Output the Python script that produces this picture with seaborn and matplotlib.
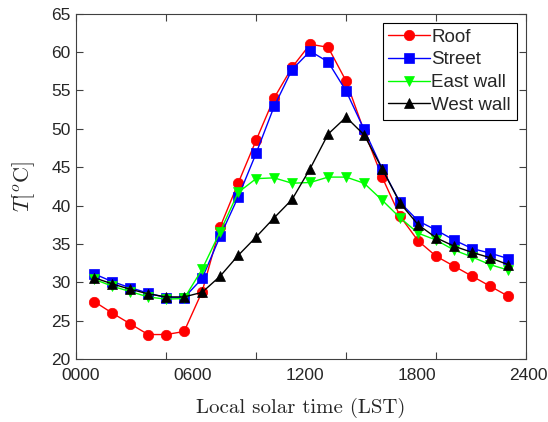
import pandas as pd
import matplotlib.pyplot as plt
import seaborn as sns

# hourly samples (MATLAB-style index 1..24 on a 0..25 axis)
hours = list(range(1, 25))

roof = [27.5, 26.0, 24.6, 23.2, 23.2, 23.6, 28.8, 37.2, 42.9, 48.5, 54.0, 58.0,
        61.0, 60.6, 56.2, 49.7, 43.7, 38.6, 35.4, 33.4, 32.1, 30.8, 29.5, 28.2]
street = [31.1, 30.1, 29.3, 28.6, 28.0, 28.0, 30.5, 36.0, 41.1, 46.8, 52.9, 57.7,
          60.1, 58.7, 54.9, 49.9, 44.8, 40.4, 38.0, 36.8, 35.5, 34.4, 33.8, 33.1]
east_wall = [30.4, 29.5, 28.8, 28.1, 27.8, 27.9, 31.7, 36.6, 41.7, 43.5, 43.6, 42.9,
             43.0, 43.7, 43.7, 42.9, 40.7, 38.4, 36.4, 35.5, 34.2, 33.3, 32.3, 31.6]
west_wall = [30.6, 29.8, 29.1, 28.5, 28.1, 28.1, 28.7, 30.8, 33.5, 35.9, 38.4, 40.8,
             44.8, 49.3, 51.5, 49.2, 44.8, 40.3, 37.5, 35.8, 34.7, 33.9, 33.2, 32.3]

names = ["Roof", "Street", "East wall", "West wall"]
series = [roof, street, east_wall, west_wall]
colours = ["#ff0000", "#0000ff", "#00ff00", "#000000"]
markers = ["o", "s", "v", "^"]

xlabels = ["0000", "0600", "1200", "1800", "2400"]

sns.set_style("ticks")
plt.rcParams['font.family'] = ['Liberation Sans', 'DejaVu Sans']
plt.rcParams['mathtext.fontset'] = 'cm'

fig = plt.figure(figsize=(5.48, 4.22), dpi=100)
ax = fig.add_axes([0.139, 0.149, 0.821, 0.819])

for name, vals, c, m in zip(names, series, colours, markers):
    sns.lineplot(x=hours, y=vals, color=c, marker=m, markersize=7.5,
                 markeredgecolor=c, markeredgewidth=0.5, lw=1, label=name, ax=ax)

ax.set_xlim(0, 25)
ax.set_ylim(20, 65)
ax.set_xticks(range(0, 26, 5))
ax.set_xticklabels([])
ax.set_yticks(range(20, 66, 5))
ax.tick_params(direction='in', top=True, right=True, length=5, width=0.8,
               color='#404040', labelsize=12.5, pad=4)
for s in ax.spines.values():
    s.set_color('#404040')
    s.set_linewidth(0.8)

#Tick labels do not sit on the tick marks in the original
for i, lab in enumerate(xlabels):
    ax.text(i / 4 + 0.01 - 0.0012 * i, -0.025, lab, transform=ax.transAxes,
            ha='center', va='top', fontsize=12.5)

ax.set_xlabel("Local solar time (LST)", family='cmr10', fontsize=15, labelpad=24)
ax.set_ylabel(r"$T[^o\mathrm{C}]$", fontsize=16, labelpad=10)

leg = ax.legend(loc='upper right', fontsize=13.5, fancybox=False, framealpha=1,
                edgecolor='black', borderaxespad=0.5, handlelength=2.2,
                handletextpad=0.1, borderpad=0.3, labelspacing=0.3)
leg.get_frame().set_linewidth(0.8)

fig.savefig("out.png", dpi=100)
